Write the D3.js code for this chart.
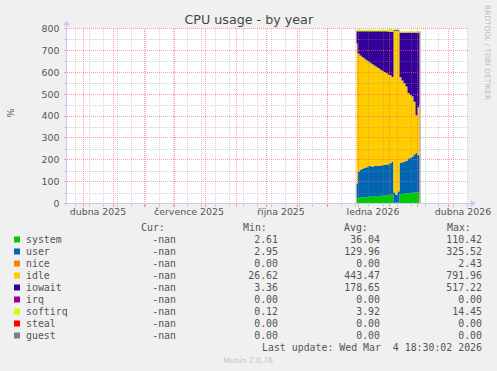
<!DOCTYPE html>
<html><head><meta charset="utf-8">
<script src="https://cdn.jsdelivr.net/npm/d3@7"></script>
<style>body{margin:0;background:#f0f0f0;overflow:hidden}svg{display:block}</style>
</head><body><svg id="c" width="497" height="371"></svg>
<script>
// ---- data ----
const dates = ["2025-12-31","2026-01-02","2026-01-04","2026-01-06","2026-01-08","2026-01-10","2026-01-12","2026-01-14","2026-01-16","2026-01-18","2026-01-20","2026-01-22","2026-01-24","2026-01-26","2026-01-28","2026-01-30","2026-02-01","2026-02-03","2026-02-05","2026-02-07","2026-02-09","2026-02-11","2026-02-13","2026-02-15","2026-02-17","2026-02-19","2026-02-21","2026-02-23","2026-02-25","2026-02-27","2026-03-01","2026-03-03","2026-03-04"];
const system  = [23,25,27,28,29,30,31,31,32,33,34,34,35,36,37,38,39,40,41,4,3,5,42,44,45,46,47,48,49,49,50,50,50];
const user    = [68,119,126,130,133,136,139,141,136,138,138,138,139,139,139,140,141,144,149,46,37,50,144,145,147,149,159,160,166,176,181,172,163];
const nice    = [0,0,0,0,0,0,0,0,0,0,0,0,0,0,0,0,0,2,0,0,0,0,0,0,0,0,0,0,0,0,0,0,0];
const idle    = [640,542,524,512,501,490,479,471,469,460,453,447,439,432,425,419,410,400,388,740,751,733,391,373,358,340,299,288,275,240,173,218,240];
const iowait  = [56,101,110,117,124,131,138,144,150,156,162,168,174,180,186,190,196,199,208,3,3,4,205,220,232,247,277,286,292,317,378,342,329];
const irq     = [0,0,0,0,0,0,0,0,0,0,0,0,0,0,0,0,0,0,0,0,0,0,0,0,0,0,0,0,0,0,0,0,0];
const softirq = [7,7,7,7,7,7,7,7,7,7,7,7,7,7,7,7,11,14,8,2,1,2,6,6,6,6,6,6,6,6,6,6,6];
const steal   = [0,0,0,0,0,0,0,0,0,0,0,0,0,0,0,0,0,0,0,0,0,0,0,0,0,0,0,0,0,0,0,0,0];
const guest   = [0,0,0,0,0,0,0,0,0,0,0,0,0,0,0,0,0,0,0,0,0,0,0,0,0,0,0,0,0,0,0,0,0];

const seriesNames  = ["system","user","nice","idle","iowait","irq","softirq","steal","guest"];
const seriesColors = ["#00CC00","#0066B3","#FF8000","#FFCC00","#330099","#990099","#CCFF00","#FF0000","#808080"];
const curVals = ["-nan","-nan","-nan","-nan","-nan","-nan","-nan","-nan","-nan"];
const minVals = ["2.61","2.95","0.00","26.62","3.36","0.00","0.12","0.00","0.00"];
const avgVals = ["36.04","129.96","0.00","443.47","178.65","0.00","3.92","0.00","0.00"];
const maxVals = ["110.42","325.52","2.43","791.96","517.22","0.00","14.45","0.00","0.00"];

const yTicks = [0,100,200,300,400,500,600,700,800];
const yMinorTicks = [50,150,250,350,450,550,650,750];
const xLabels = ["dubna 2025","července 2025","října 2025","ledna 2026","dubna 2026"];
const xLabelDates = ["2025-04-16T12:00","2025-07-16T12:00","2025-10-16T12:00","2026-01-16T12:00","2026-04-16T12:00"];
const xDomain = ["2025-03-16","2026-04-21"];
const minorStart = "2025-03-24";

const title = "CPU usage - by year";
const yTitle = "%";
const lastUpdate = "Last update: Wed Mar  4 18:30:02 2026";
const version = "Munin 2.0.76";
const watermark = "RRDTOOL / TOBI OETIKER";

// ---- layout ----
const svg = d3.select("#c");
const P = {l:66.5, r:467.5, t:28.5, b:203.5};
const pd = s => new Date(s + (s.length===10 ? "T00:00Z" : "Z"));
const x = d3.scaleUtc().domain(xDomain.map(pd)).range([P.l, P.r]);
const y = d3.scaleLinear().domain([0,800]).range([P.b, P.t]);

svg.append("rect").attr("x",0).attr("y",0).attr("width",497).attr("height",371).attr("fill","#f0f0f0");
svg.append("rect").attr("x",P.l).attr("y",P.t).attr("width",P.r-P.l).attr("height",P.b-P.t).attr("fill","#ffffff");

// data
const cols = [system,user,nice,idle,iowait,irq,softirq,steal,guest];
const rows = dates.map((d,i)=>{const o={date:pd(d)}; seriesNames.forEach((n,k)=>o[n]=cols[k][i]); return o;});
const stack = d3.stack().keys(seriesNames)(rows);
const area = d3.area().curve(d3.curveStep).x(d=>x(d.data.date)).y0(d=>y(d[0])).y1(d=>y(d[1]));
svg.append("g").selectAll("path").data(stack).join("path")
  .attr("d",area).attr("fill",(d,i)=>seriesColors[i]).attr("stroke","none");
// right edge of data
const lastRow = stack[stack.length-1][rows.length-1];
svg.append("line").attr("x1",x(rows[rows.length-1].date)+0.5).attr("x2",x(rows[rows.length-1].date)+0.5)
  .attr("y1",y(0)).attr("y2",y(lastRow[1])).attr("stroke","#909090").attr("stroke-width",1);

// grid
const gMinor = "rgba(140,140,140,0.38)", gMajor = "rgba(255,95,95,0.6)";
const minorDates = d3.utcDay.every(1).range(pd(minorStart), x.domain()[1]).filter((d,i)=>i%14===0);
const majorDates = d3.utcMonth.range(x.domain()[0], x.domain()[1]);
const grid = svg.append("g").attr("shape-rendering","crispEdges");
yMinorTicks.forEach(v=>{
  grid.append("line").attr("x1",P.l).attr("x2",P.r).attr("y1",Math.round(y(v))+0.5).attr("y2",Math.round(y(v))+0.5)
   .attr("stroke",gMinor).attr("stroke-dasharray","1,1");
  grid.append("line").attr("x1",P.l-3).attr("x2",P.l).attr("y1",Math.round(y(v))+0.5).attr("y2",Math.round(y(v))+0.5).attr("stroke",gMinor);
});
minorDates.forEach(d=>{
  const xx = Math.round(x(d))+0.5;
  grid.append("line").attr("x1",xx).attr("x2",xx).attr("y1",P.t).attr("y2",P.b).attr("stroke",gMinor).attr("stroke-dasharray","1,1");
  grid.append("line").attr("x1",xx).attr("x2",xx).attr("y1",P.b).attr("y2",P.b+3).attr("stroke",gMinor);
});
yTicks.forEach(v=>{
  const yy = Math.floor(y(v))+0.5;
  grid.append("line").attr("x1",P.l).attr("x2",P.r).attr("y1",yy).attr("y2",yy).attr("stroke",gMajor).attr("stroke-dasharray","1,1");
  grid.append("line").attr("x1",P.l-3).attr("x2",P.l).attr("y1",yy).attr("y2",yy).attr("stroke",gMajor);
});
majorDates.forEach(d=>{
  const xx = Math.round(x(d))+0.5;
  grid.append("line").attr("x1",xx).attr("x2",xx).attr("y1",P.t).attr("y2",P.b).attr("stroke",gMajor).attr("stroke-dasharray","1,1");
  grid.append("line").attr("x1",xx).attr("x2",xx).attr("y1",P.b).attr("y2",P.b+3).attr("stroke",gMajor);
});

// axes
const axC = "#c8c8f0";
svg.append("line").attr("x1",P.l).attr("x2",P.r+4).attr("y1",P.b).attr("y2",P.b).attr("stroke",axC);
svg.append("line").attr("x1",P.l).attr("x2",P.l).attr("y1",P.b+2).attr("y2",P.t-4).attr("stroke",axC);
svg.append("path").attr("d",`M${P.r+3},${P.b-3.5}L${P.r+8},${P.b}L${P.r+3},${P.b+3.5}Z`).attr("fill",axC);
svg.append("path").attr("d",`M${P.l-3.5},${P.t-3}L${P.l},${P.t-8}L${P.l+3.5},${P.t-3}Z`).attr("fill",axC);

const font = "DejaVu Sans, sans-serif", mono = "DejaVu Sans Mono, monospace";
const txtC = "#555555";
svg.append("g").selectAll("text").data(yTicks).join("text")
  .attr("x",P.l-7).attr("y",v=>y(v)+3.4).attr("text-anchor","end")
  .attr("font-family",font).attr("font-size",9.4).attr("fill",txtC).text(v=>v);
svg.append("g").selectAll("text").data(xLabels).join("text")
  .attr("x",(d,i)=>x(pd(xLabelDates[i]))).attr("y",215).attr("text-anchor","middle")
  .attr("font-family",font).attr("font-size",9.4).attr("fill",txtC).text(d=>d);

svg.append("text").attr("x",248.8).attr("y",24).attr("text-anchor","middle")
  .attr("font-family",font).attr("font-size",12.7).attr("fill","#444").text(title);
svg.append("text").attr("transform","translate(13.5,113) rotate(-90)").attr("text-anchor","middle")
  .attr("font-family",font).attr("font-size",9.4).attr("fill",txtC).text(yTitle);
svg.append("text").attr("transform","translate(485,5) rotate(90)").attr("text-anchor","start")
  .attr("font-family",font).attr("font-size",7.4).attr("fill","#bbbbbb").text(watermark);

// legend
const lg = svg.append("g").attr("font-family",mono).attr("font-size",9.9).attr("fill",txtC);
[["Cur:",141],["Min:",243],["Avg:",344],["Max:",447]].forEach(([t,xx])=>lg.append("text").attr("x",xx).attr("y",231).text(t));
seriesNames.forEach((n,i)=>{
  const yy = 242.5 + 12*i;
  lg.append("rect").attr("x",14).attr("y",yy-6).attr("width",6).attr("height",6).attr("fill",seriesColors[i]);
  lg.append("text").attr("x",26).attr("y",yy).text(n);
  lg.append("text").attr("x",176).attr("y",yy).attr("text-anchor","end").text(curVals[i]);
  lg.append("text").attr("x",278).attr("y",yy).attr("text-anchor","end").text(minVals[i]);
  lg.append("text").attr("x",380).attr("y",yy).attr("text-anchor","end").text(avgVals[i]);
  lg.append("text").attr("x",482).attr("y",yy).attr("text-anchor","end").text(maxVals[i]);
});
lg.append("text").attr("x",482).attr("y",350.5).attr("text-anchor","end").attr("xml:space","preserve").style("white-space","pre").text(lastUpdate);
svg.append("text").attr("x",248).attr("y",363).attr("text-anchor","middle")
  .attr("font-family",font).attr("font-size",7.6).attr("fill","#c4c4c4").text(version);
</script>
</body></html>
